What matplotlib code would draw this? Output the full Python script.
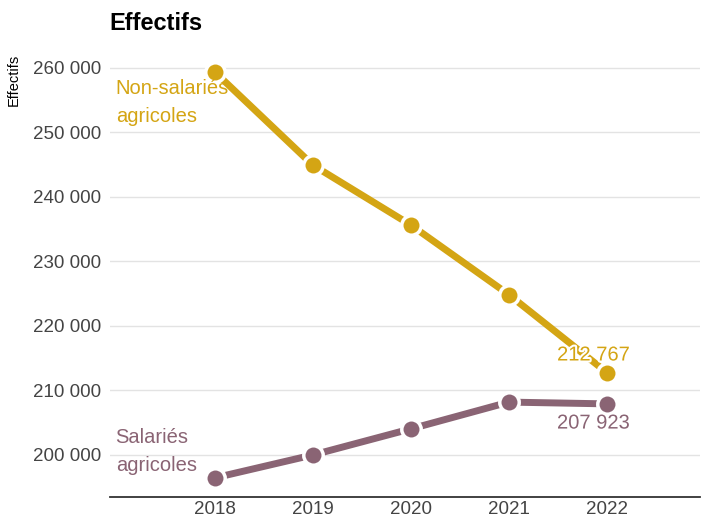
import matplotlib.pyplot as plt
import matplotlib.patheffects as pe

plt.rcParams['font.family'] = ['Liberation Sans', 'DejaVu Sans']

years = [2018, 2019, 2020, 2021, 2022]
non_salaries = [259400, 244950, 235650, 224850, 212767]
salaries = [196450, 200000, 204050, 208200, 207923]
yticks = [200000, 210000, 220000, 230000, 240000, 250000, 260000]

gold = '#D4A514'
mauve = '#8A6474'

fig = plt.figure(figsize=(7.08, 5.16), dpi=100)
ax = fig.add_axes([0.155, 0.037, 0.834, 0.885])

ax.plot(years, non_salaries, color=gold, lw=5, marker='o', ms=14,
        mec='white', mew=2.5, solid_capstyle='butt', zorder=3)
ax.plot(years, salaries, color=mauve, lw=5, marker='o', ms=14,
        mec='white', mew=2.5, solid_capstyle='butt', zorder=3)

ax.set_xlim(2016.93, 2022.95)
ax.set_ylim(193500, 264300)
ax.set_xticks(years)
ax.set_yticks(yticks)
ax.set_yticklabels([f'{v:,}'.replace(',', ' ') for v in yticks])
ax.tick_params(axis='y', length=0, labelsize=13.5, colors='#444444', pad=6)
ax.tick_params(axis='x', length=0, labelsize=13.5, colors='#444444', pad=3)
ax.grid(axis='y', color='#e3e3e3', lw=1)
ax.set_axisbelow(True)
for s in ['top', 'right', 'left']:
    ax.spines[s].set_visible(False)
ax.spines['bottom'].set_color('#333333')
ax.spines['bottom'].set_linewidth(1.3)

halo = [pe.withStroke(linewidth=3, foreground='white')]
ax.text(2016.99, 254700, 'Non-salariés\nagricoles', color=gold,
        fontsize=14.5, va='center', ha='left', linespacing=1.6, zorder=4)
ax.text(2016.99, 200550, 'Salariés\nagricoles', color=mauve,
        fontsize=14.5, va='center', ha='left', linespacing=1.6, zorder=4)
ax.text(2021.86, 215500, f'{non_salaries[-1]:,}'.replace(',', ' '),
        color=gold, fontsize=14.5, ha='center', va='center', path_effects=halo, zorder=4)
ax.text(2021.86, 204950, f'{salaries[-1]:,}'.replace(',', ' '),
        color=mauve, fontsize=14.5, ha='center', va='center', path_effects=halo, zorder=4)

fig.text(0.155, 0.955, 'Effectifs', fontsize=17, fontweight='bold', ha='left', va='center')
fig.text(0.02, 0.845, 'Effectifs', fontsize=10.5, rotation=90, ha='center', va='center')

fig.savefig('out.png', dpi=100)
